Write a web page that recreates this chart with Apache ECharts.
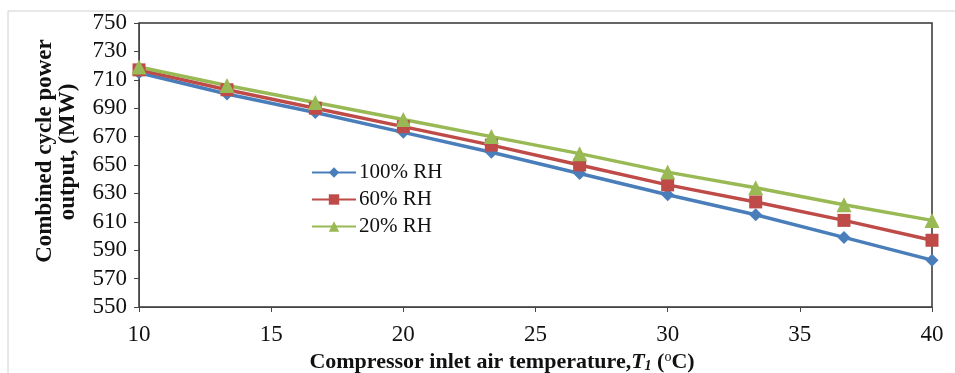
<!DOCTYPE html>
<html><head><meta charset="utf-8">
<script src="https://cdn.jsdelivr.net/npm/echarts@6/dist/echarts.min.js"></script>
<style>html,body{margin:0;padding:0;background:#fff}#c{width:955px;height:373px}</style>
</head><body><div id="c"></div>
<script>
const temps = [10, 13.33, 16.67, 20, 23.33, 26.67, 30, 33.33, 36.67, 40];
const rh100 = [715, 700, 687, 673, 659, 644, 629, 615, 599, 583];
const rh60  = [717, 703, 690, 677, 664, 650, 636, 624, 611, 597];
const rh20  = [719, 706, 694, 682, 670, 658, 645, 634, 622, 611];
const seriesNames = ['100% RH', '60% RH', '20% RH'];
const yTitle = ['Combined cycle power', 'output, (MW)'];
const xTitle = 'Compressor inlet air temperature,';

const pair = arr => temps.map((t, i) => [t, arr[i]]);
const font = '"Liberation Serif", "Times New Roman", serif';
const colors = ['#4a7ebb', '#be4b48', '#98b954'];
const symbols = ['diamond', 'rect', 'triangle'];
const sizes = [13, 13, 15];
const chart = echarts.init(document.getElementById('c'));
chart.setOption({
  animation: false,
  backgroundColor: '#fff',
  textStyle: { fontFamily: font },
  graphic: [
    { type: 'rect', shape: { x: 8, y: 11, width: 960, height: 380 }, style: { fill: 'none', stroke: '#d0d0d0', lineWidth: 1 }, z: -1 },
    { type: 'text', x: 45, y: 151, rotation: Math.PI / 2, style: { text: yTitle[0], font: 'bold 23px ' + font, fill: '#111', align: 'center', verticalAlign: 'middle' } },
    { type: 'text', x: 68, y: 152, rotation: Math.PI / 2, style: { text: yTitle[1], font: 'bold 23px ' + font, fill: '#111', align: 'center', verticalAlign: 'middle' } },
    { type: 'text', x: 502, y: 362, style: {
        text: '{b|' + xTitle + '}{i|T}{sub|1}{b| (}{sup|o}{b|C)}', align: 'center', verticalAlign: 'middle',
        rich: {
          b: { fontSize: 22, fontWeight: 'bold', fontFamily: font, fill: '#111' },
          i: { fontSize: 22, fontWeight: 'bold', fontStyle: 'italic', fontFamily: font, fill: '#111' },
          sub: { fontSize: 14, fontWeight: 'bold', fontStyle: 'italic', fontFamily: font, fill: '#111', verticalAlign: 'bottom', padding: [9, 0, 0, 0] },
          sup: { fontSize: 14, fontFamily: font, fill: '#111', verticalAlign: 'top', padding: [0, 0, 9, 0] }
        } } }
  ],
  grid: { left: 139, right: 23, top: 23, bottom: 66, show: true, borderColor: '#333', borderWidth: 1.5 },
  legend: {
    orient: 'vertical', left: 306, top: 157, itemGap: 6, itemWidth: 44, itemHeight: 13,
    data: seriesNames,
    textStyle: { fontFamily: font, fontSize: 21, color: '#111', padding: [0, 0, 0, -2] }
  },
  xAxis: {
    type: 'value', min: 10, max: 40, interval: 5,
    axisLine: { show: true, lineStyle: { color: '#444', width: 1 } },
    axisTick: { show: true, inside: false, length: 5, lineStyle: { color: '#444' } },
    splitLine: { show: false },
    axisLabel: { fontSize: 23, color: '#111', margin: 16, fontFamily: font }
  },
  yAxis: {
    type: 'value', min: 550, max: 750, interval: 20,
    axisLine: { show: true, lineStyle: { color: '#444', width: 1 } },
    axisTick: { show: true, inside: false, length: 5, lineStyle: { color: '#444' } },
    splitLine: { show: false },
    axisLabel: { fontSize: 23, color: '#111', margin: 12, fontFamily: font }
  },
  series: [rh100, rh60, rh20].map((arr, k) => ({
    name: seriesNames[k], type: 'line', data: pair(arr),
    symbol: symbols[k], symbolSize: sizes[k], showSymbol: true,
    lineStyle: { color: colors[k], width: 3.5 },
    itemStyle: { color: colors[k] }
  }))
});
</script></body></html>
